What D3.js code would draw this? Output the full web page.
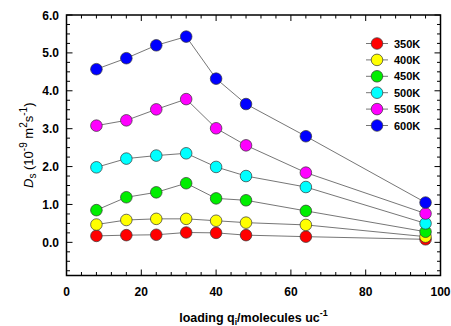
<!DOCTYPE html>
<html>
<head>
<meta charset="utf-8">
<script src="https://cdn.jsdelivr.net/npm/d3@7"></script>
<style>
  body { margin: 0; background: #fff; }
  text { font-family: "Liberation Sans", Arial, sans-serif; }
  .tick-label { font-size: 12px; font-weight: bold; fill: #000; }
  .legend-label { font-size: 11px; font-weight: bold; fill: #000; }
  .axis-title { font-size: 12.5px; font-weight: bold; fill: #000; }
  .y-title { font-size: 13px; fill: #000; }
</style>
</head>
<body>
<div id="chart"></div>
<script>
const loading = [8, 16, 24, 32, 40, 48, 64, 96];
const temps = ['350K', '400K', '450K', '500K', '550K', '600K'];
const colors = ['#ff0000', '#ffff00', '#00ee00', '#00ffff', '#ff00ff', '#0000ff'];
const d350 = [0.17, 0.19, 0.20, 0.26, 0.25, 0.19, 0.15, 0.08];
const d400 = [0.47, 0.59, 0.62, 0.62, 0.57, 0.52, 0.46, 0.15];
const d450 = [0.85, 1.19, 1.32, 1.56, 1.16, 1.11, 0.83, 0.28];
const d500 = [1.98, 2.21, 2.29, 2.35, 1.99, 1.75, 1.46, 0.50];
const d550 = [3.08, 3.22, 3.51, 3.78, 3.01, 2.56, 1.84, 0.76];
const d600 = [4.57, 4.86, 5.20, 5.43, 4.32, 3.65, 2.80, 1.05];
const series = [d350, d400, d450, d500, d550, d600];
const xTicks = [0, 20, 40, 60, 80, 100];
const yTicks = [0, 1, 2, 3, 4, 5, 6];

const width = 451, height = 326;
const pLeft = 66.5, pRight = 440.5, pTop = 15, pBottom = 275.5;

const x = d3.scaleLinear().domain([0, 100]).range([pLeft, pRight]);
const y = d3.scaleLinear().domain([-0.875, 6]).range([pBottom, pTop]);

const svg = d3.select("#chart")
  .append("svg")
  .attr("width", width)
  .attr("height", height);

// minor ticks on all four sides
const xMinor = d3.range(0, 101, 4);
const yMinor = d3.range(-0.75, 6.01, 0.25);
const isMajorY = d => Math.abs(d - Math.round(d)) < 1e-6;

svg.append("g").selectAll("line")
  .data(xMinor)
  .enter().append("line")
  .attr("x1", d => x(d)).attr("x2", d => x(d))
  .attr("y1", pBottom).attr("y2", d => pBottom - (xTicks.includes(d) ? 6 : 3.5))
  .attr("stroke", "#000").attr("stroke-width", 1);
svg.append("g").selectAll("line")
  .data(xMinor)
  .enter().append("line")
  .attr("x1", d => x(d)).attr("x2", d => x(d))
  .attr("y1", pTop).attr("y2", d => pTop + (xTicks.includes(d) ? 6 : 3.5))
  .attr("stroke", "#000").attr("stroke-width", 1);
svg.append("g").selectAll("line")
  .data(yMinor)
  .enter().append("line")
  .attr("y1", d => y(d)).attr("y2", d => y(d))
  .attr("x1", pLeft).attr("x2", d => pLeft + (isMajorY(d) ? 6 : 3.5))
  .attr("stroke", "#000").attr("stroke-width", 1);
svg.append("g").selectAll("line")
  .data(yMinor)
  .enter().append("line")
  .attr("y1", d => y(d)).attr("y2", d => y(d))
  .attr("x1", pRight).attr("x2", d => pRight - (isMajorY(d) ? 6 : 3.5))
  .attr("stroke", "#000").attr("stroke-width", 1);

svg.append("rect")
  .attr("x", pLeft).attr("y", pTop)
  .attr("width", pRight - pLeft).attr("height", pBottom - pTop)
  .attr("fill", "none").attr("stroke", "#000").attr("stroke-width", 1.5);

// tick labels
svg.append("g").selectAll("text")
  .data(xTicks)
  .enter().append("text")
  .attr("class", "tick-label")
  .attr("x", d => x(d))
  .attr("y", 296)
  .attr("text-anchor", "middle")
  .text(d => d);

svg.append("g").selectAll("text")
  .data(yTicks)
  .enter().append("text")
  .attr("class", "tick-label")
  .attr("x", 59)
  .attr("y", d => y(d) + 4.5)
  .attr("text-anchor", "end")
  .text(d => d.toFixed(1));

// lines and markers
const line = d3.line().x((d, i) => x(loading[i])).y(d => y(d));

svg.append("g").selectAll("path")
  .data(series)
  .enter().append("path")
  .attr("d", d => line(d))
  .attr("fill", "none")
  .attr("stroke", "#666")
  .attr("stroke-width", 0.9);

series.forEach((s, k) => {
  svg.append("g").selectAll("circle")
    .data(s)
    .enter().append("circle")
    .attr("cx", (d, i) => x(loading[i]))
    .attr("cy", d => y(d))
    .attr("r", 5.8)
    .attr("fill", colors[k])
    .attr("stroke", "#333")
    .attr("stroke-width", 0.7);
});

// legend
const legend = svg.append("g").selectAll("g")
  .data(temps)
  .enter().append("g")
  .attr("transform", (d, i) => "translate(377," + (43.5 + i * 16.4) + ")");
legend.append("line")
  .attr("x1", -11).attr("x2", 11)
  .attr("stroke", "#666").attr("stroke-width", 0.9);
legend.append("circle")
  .attr("r", 5.8)
  .attr("fill", (d, i) => colors[i])
  .attr("stroke", "#333").attr("stroke-width", 0.7);
legend.append("text")
  .attr("class", "legend-label")
  .attr("x", 17).attr("y", 4)
  .text(d => d);

// axis titles
const xt = svg.append("text")
  .attr("class", "axis-title")
  .attr("x", (pLeft + pRight) / 2)
  .attr("y", 322)
  .attr("text-anchor", "middle");
xt.append("tspan").text("loading q");
xt.append("tspan").attr("font-size", "8.5px").attr("dy", 3).text("i");
xt.append("tspan").attr("dy", -3).text("/molecules uc");
xt.append("tspan").attr("font-size", "9px").attr("dy", -6).text("-1");

const yt = svg.append("text")
  .attr("class", "y-title")
  .attr("transform", "translate(33," + ((pTop + pBottom) / 2) + ") rotate(-90)")
  .attr("text-anchor", "middle");
yt.append("tspan").attr("font-style", "italic").text("D");
yt.append("tspan").attr("font-size", "10px").attr("dy", 3).text("s");
yt.append("tspan").attr("dy", -3).text(" (10");
yt.append("tspan").attr("font-size", "10px").attr("dy", -6).text("-9");
yt.append("tspan").attr("dy", 6).text(" m");
yt.append("tspan").attr("font-size", "10px").attr("dy", -6).text("2");
yt.append("tspan").attr("dy", 6).text("s");
yt.append("tspan").attr("font-size", "10px").attr("dy", -6).text("-1");
yt.append("tspan").attr("dy", 6).text(")");
</script>
</body>
</html>
